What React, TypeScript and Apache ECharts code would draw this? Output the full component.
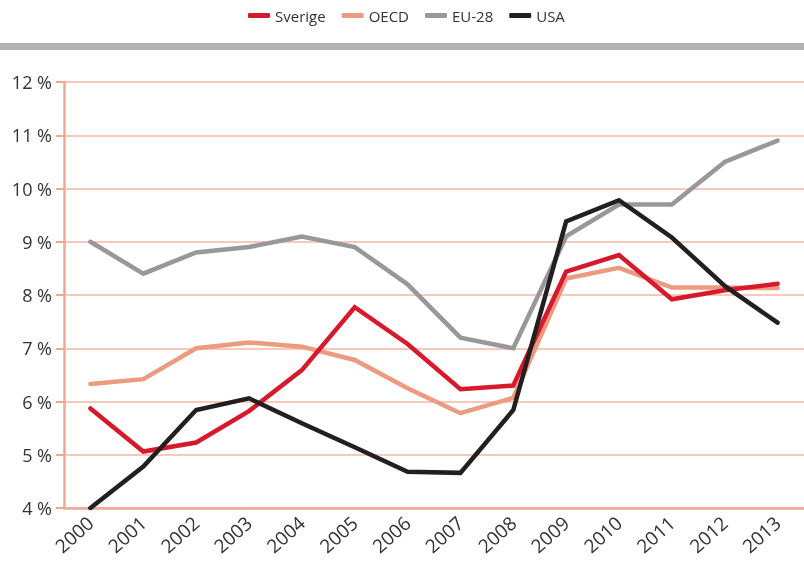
import React, { useEffect, useRef } from "react";
import * as echarts from "echarts";

const years = ["2000", "2001", "2002", "2003", "2004", "2005", "2006", "2007", "2008", "2009", "2010", "2011", "2012", "2013"];
const sverige = [5.87, 5.06, 5.23, 5.82, 6.59, 7.77, 7.08, 6.23, 6.3, 8.44, 8.75, 7.92, 8.09, 8.21];
const oecd = [6.33, 6.42, 7.0, 7.11, 7.03, 6.78, 6.25, 5.78, 6.07, 8.31, 8.51, 8.14, 8.14, 8.13];
const eu28 = [9.0, 8.4, 8.8, 8.9, 9.1, 8.9, 8.2, 7.2, 7.0, 9.1, 9.7, 9.7, 10.5, 10.9];
const usa = [4.0, 4.78, 5.84, 6.06, 5.59, 5.14, 4.68, 4.66, 5.84, 9.38, 9.78, 9.08, 8.17, 7.48];
const legendNames = ["Sverige", "OECD", "EU-28", "USA"];

const RED = "#d71a2b";
const SALMON = "#ec9a80";
const GRAY = "#98989b";
const BLACK = "#231f20";
const AXIS = "#efa891";
const GRID = "#f4b7a3";
const FONT = "'Open Sans', Lato, sans-serif";

export default function App() {
  const ref = useRef<HTMLDivElement>(null);
  useEffect(() => {
    if (!ref.current) return;
    const chart = echarts.init(ref.current, undefined, { renderer: "svg" });
    const mk = (name: string, data: number[], color: string, z: number) => ({
      name,
      type: "line",
      data,
      z,
      symbol: "none",
      lineStyle: { color, width: 4.5, cap: "round", join: "miter" },
      itemStyle: { color },
    });
    chart.setOption({
      animation: false,
      textStyle: { fontFamily: FONT },
      legend: {
        data: legendNames,
        top: 3,
        left: 243,
        icon: "roundRect",
        itemWidth: 22,
        itemHeight: 5,
        itemGap: 16,
        textStyle: { fontSize: 15, color: "#333", fontFamily: FONT },
      },
      graphic: [
        { type: "rect", shape: { x: 0, y: 43, width: 804, height: 7 }, style: { fill: "#b2b2b4" } },
      ],
      grid: { left: 64, top: 82, right: -6, bottom: 55, containLabel: false },
      xAxis: {
        type: "category",
        data: years,
        boundaryGap: true,
        axisLine: { show: true, lineStyle: { color: AXIS, width: 2.5 } },
        axisTick: { show: false },
        axisLabel: { rotate: 42, fontSize: 19, color: "#333", margin: 12, interval: 0, fontFamily: FONT },
        splitLine: { show: false },
      },
      yAxis: {
        type: "value",
        min: 4,
        max: 12,
        interval: 1,
        axisLine: { show: true, lineStyle: { color: AXIS, width: 2.5 } },
        axisTick: { show: true, length: 8, lineStyle: { color: AXIS, width: 2 } },
        axisLabel: { formatter: (v: number) => `${v} %`, fontSize: 18, color: "#333", margin: 12, fontFamily: FONT },
        splitLine: { show: true, lineStyle: { color: GRID, width: 1.5 } },
      },
      series: [
        mk("OECD", oecd, SALMON, 2),
        mk("EU-28", eu28, GRAY, 3),
        mk("Sverige", sverige, RED, 4),
        mk("USA", usa, BLACK, 5),
      ],
    });
    return () => chart.dispose();
  }, []);
  return <div ref={ref} style={{ position: "fixed", left: 0, top: 0, width: 804, height: 563 }} />;
}
